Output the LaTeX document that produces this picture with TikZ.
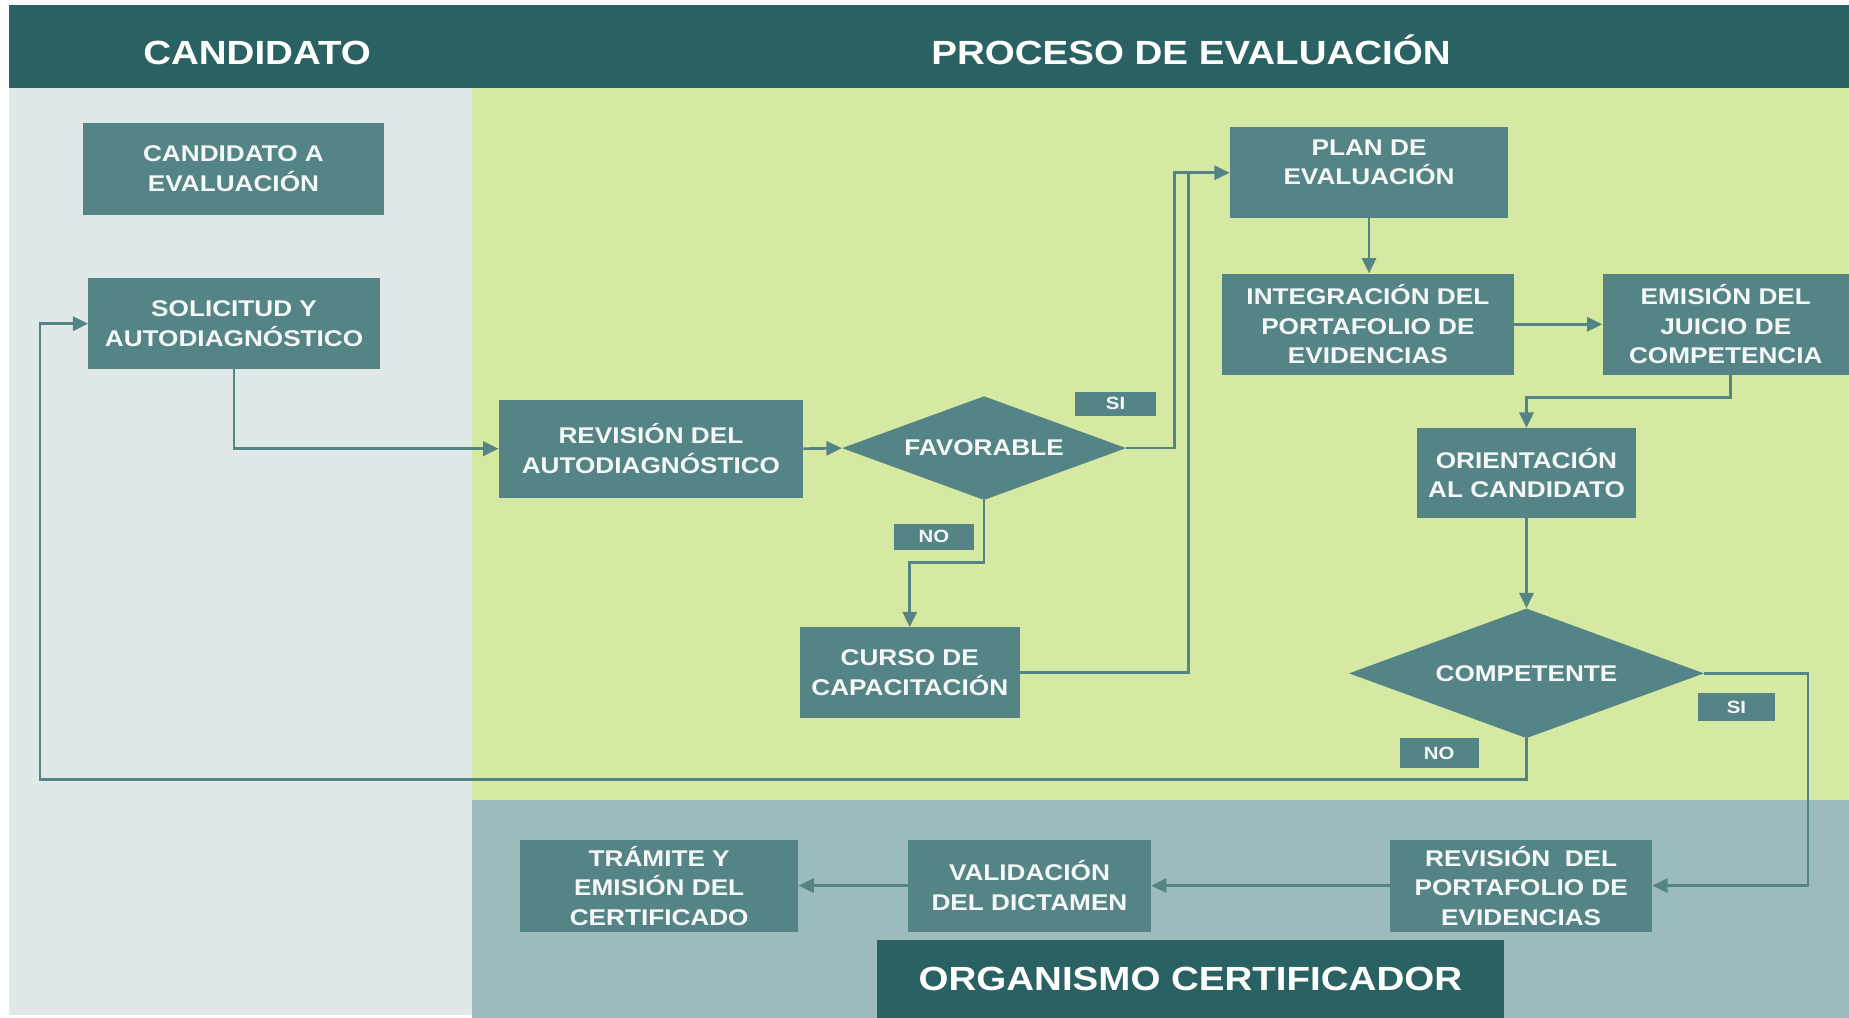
\documentclass[tikz,border=0pt]{standalone}
\usepackage{fontspec}
\setmainfont{Liberation Sans}[FakeStretch=1.15]
\usetikzlibrary{shapes.geometric,arrows.meta}
\definecolor{hdr}{HTML}{2A6263}
\definecolor{grn}{HTML}{D6E9A3}
\definecolor{lft}{HTML}{E0E8E9}
\definecolor{bot}{HTML}{9BBBBD}
\definecolor{bx}{HTML}{558486}
\definecolor{txt}{HTML}{F4F8F8}
\begin{document}
\begin{tikzpicture}[x=1pt,y=-1pt,
  box/.style={fill=bx, text=txt, inner sep=0pt, align=center,
    font=\bfseries\fontsize{19.3}{25}\selectfont},
  dia/.style={diamond, aspect=2.74, fill=bx, text=txt, inner sep=0pt,
    font=\bfseries\fontsize{19.3}{25}\selectfont},
  lbl/.style={fill=bx, text=txt, inner sep=0pt, minimum width=67, minimum height=22,
    font=\bfseries\fontsize{15}{18}\selectfont},
  hdrtext/.style={text=white, inner sep=0pt, font=\bfseries\fontsize{28.4}{32}\selectfont},
  conn/.style={draw=bx, line width=2.3pt},
  arr/.style={conn, -{Triangle[length=13pt,width=12pt]}},
]
\useasboundingbox (0,0) rectangle (1568,863);
% backgrounds
\fill[white] (0,0) rectangle (1568,863);
\fill[lft] (8,75) rectangle (400,861);
\fill[grn] (400,75) rectangle (1568,678);
\fill[bot] (400,678) rectangle (1568,863);
\fill[hdr] (8,4) rectangle (1568,75);
% headers
\node[hdrtext] (hcand) at (218,44.5) {CANDIDATO};
\node[hdrtext] (hproc) at (1010,42) {PROCESO DE EVALUACIÓN};
\node[hdrtext, fill=hdr, minimum width=531, minimum height=66] (org) at (1009.5,830) {ORGANISMO CERTIFICADOR};
% boxes
\node[box, minimum width=256, minimum height=78] (cand) at (198,143) {CANDIDATO A\\EVALUACIÓN};
\node[box, minimum width=247, minimum height=77] (sol) at (198.5,274.5) {SOLICITUD Y\\AUTODIAGNÓSTICO};
\node[box, minimum width=258, minimum height=83] (rev) at (552,380.5) {REVISIÓN DEL\\AUTODIAGNÓSTICO};
\node[dia, minimum width=241, minimum height=88] (fav) at (834.5,380) {FAVORABLE};
\node[box, minimum width=187, minimum height=77] (curso) at (771.5,570.5) {CURSO DE\\CAPACITACIÓN};
\node[box, minimum width=236, minimum height=77, text depth=18pt] (plan) at (1161,146.5) {PLAN DE\\EVALUACIÓN};
\node[box, minimum width=248, minimum height=86] (integ) at (1160,275) {INTEGRACIÓN DEL\\PORTAFOLIO DE\\EVIDENCIAS};
\node[box, minimum width=209, minimum height=86] (emis) at (1463.5,275) {EMISIÓN DEL\\JUICIO DE\\COMPETENCIA};
\node[box, minimum width=185, minimum height=76] (orient) at (1294.5,401) {ORIENTACIÓN\\AL CANDIDATO};
\node[dia, minimum width=301, minimum height=110] (comp) at (1294.5,571) {COMPETENTE};
\node[box, minimum width=222, minimum height=78] (revp) at (1290,751) {REVISIÓN\ \ DEL\\PORTAFOLIO DE\\EVIDENCIAS};
\node[box, minimum width=206, minimum height=78] (valid) at (873,751) {VALIDACIÓN\\DEL DICTAMEN};
\node[box, minimum width=236, minimum height=78] (tram) at (559,751) {TRÁMITE Y\\EMISIÓN DEL\\CERTIFICADO};
% labels
\node[lbl, minimum width=68, minimum height=21] (si1) at (946,342.5) {SI};
\node[lbl, minimum width=68, minimum height=22] (no1) at (792,455) {NO};
\node[lbl, minimum width=65, minimum height=23] (si2) at (1472.5,599.5) {SI};
\node[lbl, minimum width=67, minimum height=25] (no2) at (1220.5,638.5) {NO};
% coordinates
\coordinate (jfav) at (996,146.5);
\coordinate (jcur) at (1008,146.5);
\coordinate (back) at (34,661);
% connectors
\draw[arr] (sol.south) |- (rev.west);
\draw[arr] (rev.east) -- (fav.west);
\draw[conn] (curso.east) -| (jcur);
\draw[arr] (fav.east) -| (jfav) -- (plan.west);
\draw[arr] (fav.south) -- ++(0,53) -| (curso.north);
\draw[arr] (plan.south) -- (plan.south |- integ.north);
\draw[arr] (integ.east) -- (emis.west);
\draw[arr] ([xshift=4pt]emis.south) -- ++(0,19) -| (orient.north);
\draw[arr] (orient.south) -- (comp.north);
\draw[arr] (comp.east) -- ++(88,0) |- (revp.east);
\draw[arr] (comp.south) |- (back) |- (sol.west);
\draw[arr] (revp.west) -- (valid.east);
\draw[arr] (valid.west) -- (tram.east);
\end{tikzpicture}
\end{document}
